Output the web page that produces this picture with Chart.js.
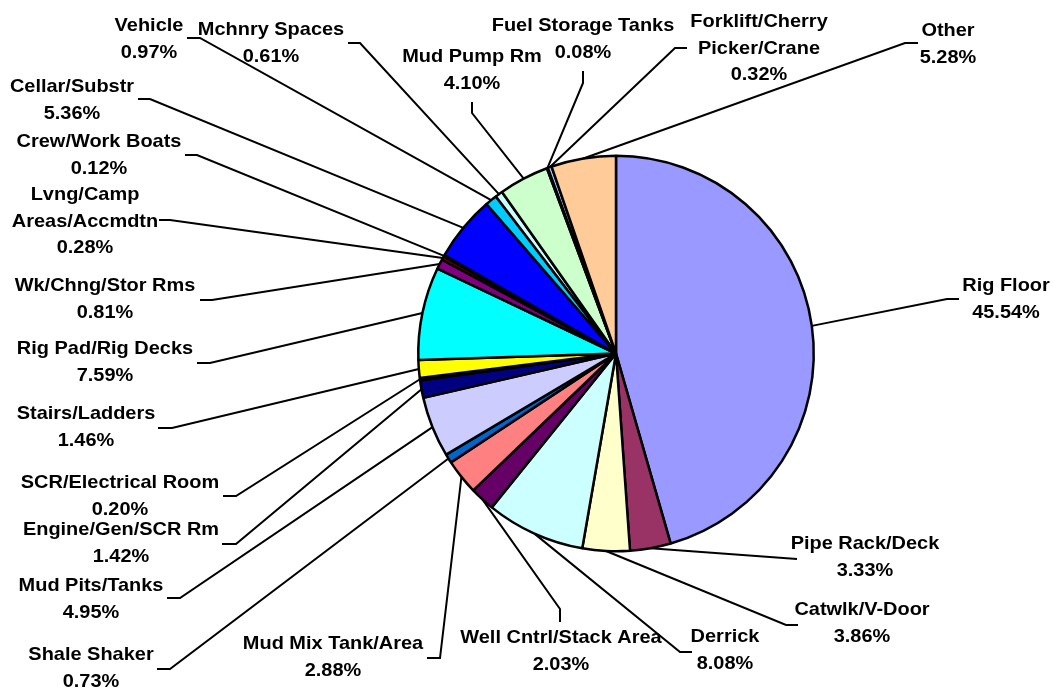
<!DOCTYPE html>
<html lang="en">
<head>
<meta charset="UTF-8">
<title>Incidents by Location</title>
<script src="https://cdn.jsdelivr.net/npm/chart.js"></script>
<style>
  body { margin: 0; background: #fff; }
  #wrap { width: 1054px; height: 690px; }
</style>
</head>
<body>
<div id="wrap"><canvas id="pie" width="1054" height="690"></canvas></div>
<script>
const locations = [
  'Rig Floor', 'Pipe Rack/Deck', 'Catwlk/V-Door', 'Derrick', 'Well Cntrl/Stack Area',
  'Mud Mix Tank/Area', 'Shale Shaker', 'Mud Pits/Tanks', 'Engine/Gen/SCR Rm',
  'SCR/Electrical Room', 'Stairs/Ladders', 'Rig Pad/Rig Decks', 'Wk/Chng/Stor Rms',
  'Lvng/Camp\nAreas/Accmdtn', 'Crew/Work Boats', 'Cellar/Substr', 'Vehicle',
  'Mchnry Spaces', 'Mud Pump Rm', 'Fuel Storage Tanks', 'Forklift/Cherry\nPicker/Crane', 'Other'
];
const shares = [
  45.54, 3.33, 3.86, 8.08, 2.03,
  2.88, 0.73, 4.95, 1.42,
  0.20, 1.46, 7.59, 0.81,
  0.28, 0.12, 5.36, 0.97,
  0.61, 4.10, 0.08, 0.32, 5.28
];
const sliceColors = [
  '#9999FF', '#993366', '#FFFFCC', '#CCFFFF', '#660066',
  '#FF8080', '#0066CC', '#CCCCFF', '#000080',
  '#FF00FF', '#FFFF00', '#00FFFF', '#800080',
  '#800000', '#008080', '#0000FF', '#00CCFF',
  '#CCFFFF', '#CCFFCC', '#FFFF99', '#99CCFF', '#FFCC99'
];

// where each label sits: [centre x, first line y]
const labelSpots = [
  [1006, 286], [865, 544], [862, 610], [725, 637], [561, 638],
  [333, 644], [91, 655], [91, 586], [121, 530],
  [120, 483], [86, 414], [105, 349], [105, 286],
  [85, 195], [99, 142], [72, 87], [149, 26],
  [271, 30], [472, 57], [583, 26], [759, 22], [948, 31]
];
// short stub at the label end of each leader: [label x, label y, bend x, bend y]
const leaderStubs = [
  [959, 299, 947, 299], [797, 559, 797, 559], [798, 625, 786, 625], [692, 652, 680, 652], [560, 622, 560, 609],
  [427, 658, 440, 658], [157, 669, 170, 669], [167, 598, 180, 598], [222, 544, 236, 544],
  [223, 496, 236, 496], [158, 428, 172, 428], [197, 363, 210, 363], [200, 300, 212, 300],
  [159, 220, 170, 220], [185, 155, 197, 155], [138, 99, 150, 99], [187, 38, 200, 38],
  [348, 43, 360, 43], [472, 102, 472, 113], [583, 71, 583, 83], [687, 48, 675, 48], [918, 43, 905, 43]
];

const lineGap = 26.5;
const stretch = 1.05; // the original type is a touch wider than Arial

const leaderLabels = {
  id: 'leaderLabels',
  afterDatasetsDraw(chart) {
    const ctx = chart.ctx;
    const arcs = chart.getDatasetMeta(0).data;
    ctx.save();
    ctx.strokeStyle = '#000';
    ctx.lineWidth = 2;
    arcs.forEach((arc, i) => {
      const mid = (arc.startAngle + arc.endAngle) / 2;
      const px = arc.x + Math.cos(mid) * arc.outerRadius;
      const py = arc.y + Math.sin(mid) * arc.outerRadius;
      const s = leaderStubs[i];
      ctx.beginPath();
      ctx.moveTo(px, py);
      ctx.lineTo(s[2], s[3]);
      ctx.lineTo(s[0], s[1]);
      ctx.stroke();
    });
    ctx.fillStyle = '#000';
    ctx.font = 'bold 19px "Liberation Sans", Arial, sans-serif';
    ctx.textAlign = 'center';
    ctx.textBaseline = 'middle';
    locations.forEach((name, i) => {
      const lines = name.split('\n').concat(shares[i].toFixed(2) + '%');
      const [cx, cy] = labelSpots[i];
      lines.forEach((t, k) => {
        ctx.save();
        ctx.translate(cx, cy + k * lineGap);
        ctx.scale(stretch, 1);
        ctx.fillText(t, 0, 0);
        ctx.restore();
      });
    });
    ctx.restore();
  }
};

new Chart(document.getElementById('pie'), {
  type: 'pie',
  data: {
    labels: locations,
    datasets: [{
      data: shares,
      backgroundColor: sliceColors,
      borderColor: '#000',
      borderWidth: 2.5
    }]
  },
  options: {
    responsive: false,
    animation: false,
    layout: { padding: { left: 417, right: 239, top: 154, bottom: 137 } },
    plugins: {
      legend: { display: false },
      tooltip: { enabled: false }
    }
  },
  plugins: [leaderLabels]
});
</script>
</body>
</html>
